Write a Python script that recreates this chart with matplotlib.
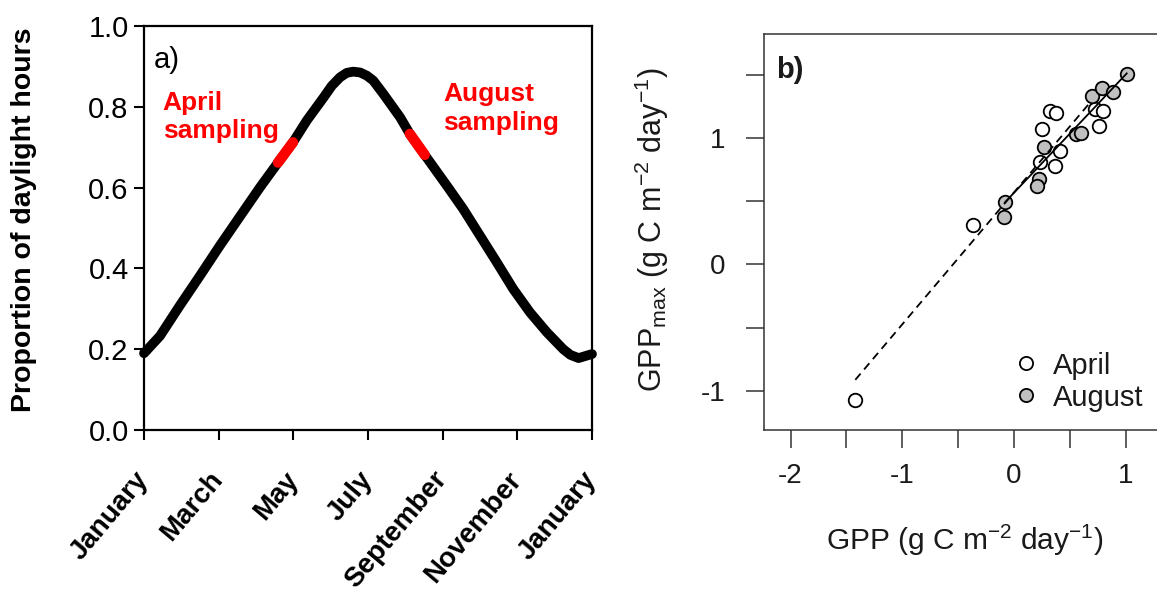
import numpy as np
import matplotlib.pyplot as plt
from matplotlib.lines import Line2D

plt.rcParams['font.family'] = ['Liberation Sans', 'DejaVu Sans']
plt.rcParams['mathtext.fontset'] = 'custom'
plt.rcParams['mathtext.rm'] = 'Liberation Sans'
plt.rcParams['mathtext.it'] = 'Liberation Sans:italic'
plt.rcParams['mathtext.bf'] = 'Liberation Sans:bold'

# panel a: proportion of daylight hours through the year (months since 1 Jan)
months = np.array([0, 0.43, 0.96, 1.50, 2.03, 2.58, 3.11, 3.59, 3.99, 4.36, 4.81, 5.03,
                   5.25, 5.43, 5.60, 5.79, 5.97, 6.14, 6.41, 6.86, 7.12, 7.52, 8.11, 8.55,
                   9.00, 9.45, 9.89, 10.34, 10.79, 11.23, 11.42, 11.64, 12])
daylight = np.array([0.19, 0.233, 0.308, 0.382, 0.456, 0.530, 0.601, 0.662, 0.712, 0.766,
                     0.823, 0.852, 0.873, 0.884, 0.887, 0.885, 0.877, 0.865, 0.832, 0.774,
                     0.733, 0.681, 0.605, 0.547, 0.481, 0.415, 0.349, 0.291, 0.242, 0.200,
                     0.186, 0.178, 0.188])
sampling_windows = [(3.59, 3.99), (7.12, 7.52)]
month_ticks = [0, 2, 4, 6, 8, 10, 12]
month_labels = ['January', 'March', 'May', 'July', 'September', 'November', 'January']

# panel b: GPPmax vs GPP
april_gpp = [-1.420, -0.363, 0.321, 0.381, 0.247, 0.411, 0.232, 0.366, 0.723, 0.797, 0.762]
april_gppmax = [-1.071, 0.307, 1.213, 1.194, 1.069, 0.898, 0.806, 0.780, 1.226, 1.213, 1.094]
august_gpp = [-0.080, -0.089, 0.271, 0.226, 0.203, 0.560, 0.604, 0.699, 0.792, 0.887, 1.012]
august_gppmax = [0.496, 0.372, 0.931, 0.675, 0.622, 1.029, 1.042, 1.331, 1.396, 1.362, 1.502]
# fitted lines: (intercept, slope, x from, x to)
april_fit = (0.568, 1.043, -1.42, 0.68)
august_fit = (0.565, 0.935, -0.08, 1.01)

W, H = 1157, 594
fig = plt.figure(figsize=(W / 100, H / 100), dpi=100)


def px_axes(left, top, right, bottom):
    return fig.add_axes([left / W, 1 - bottom / H, (right - left) / W, (bottom - top) / H])


# ---- panel a
axA = px_axes(144, 26, 592, 430)
axA.plot(months, daylight, color='black', lw=7, solid_capstyle='round',
         solid_joinstyle='round', clip_on=False, zorder=3)
for m0, m1 in sampling_windows:
    sel = (months >= m0) & (months <= m1)
    axA.plot(months[sel], daylight[sel], color='red', lw=7.5,
             solid_capstyle='round', zorder=4)
axA.set_xlim(0, 12)
axA.set_ylim(0, 1)
axA.set_yticks(np.arange(0, 1.01, 0.2))
axA.set_yticklabels([f'{v:.1f}' for v in np.arange(0, 1.01, 0.2)])
axA.set_xticks(month_ticks)
axA.set_xticklabels(month_labels, rotation=50, ha='right', va='center',
                    rotation_mode='anchor', fontweight='bold')
axA.tick_params(direction='out', length=7, width=1.5, labelsize=21)
axA.tick_params(axis='x', pad=25.5, labelsize=20)
axA.tick_params(axis='y', pad=4)
for s in axA.spines.values():
    s.set_linewidth(1.6)
axA.text(0.022, 0.95, 'a)', transform=axA.transAxes, fontsize=21, va='top')
axA.text(0.042, 0.84, 'April\nsampling', transform=axA.transAxes, color='red',
         fontsize=19, fontweight='bold', va='top', linespacing=1.25)
axA.text(0.668, 0.862, 'August\nsampling', transform=axA.transAxes, color='red',
         fontsize=19, fontweight='bold', va='top', linespacing=1.25)
fig.text(24 / W, 1 - 220 / H, 'Proportion of daylight hours', rotation=90,
         ha='center', va='center', fontsize=20.5, fontweight='bold')

# ---- panel b
dark = '#1a1a1a'
axB = px_axes(764.3, 34, 1164.7, 429.5)
axB.scatter(april_gpp, april_gppmax, s=95, facecolor='white', edgecolor='black',
            linewidth=1.3, zorder=2)
axB.scatter(august_gpp, august_gppmax, s=95, facecolor='#c0c0c0', edgecolor='black',
            linewidth=1.3, zorder=2)
for b0, b1, x0, x1, ls in [april_fit + ('--',), august_fit + ('-',)]:
    xs = np.array([x0, x1])
    axB.plot(xs, b0 + b1 * xs, color='black', lw=1.3, ls=ls,
             dashes=(4.5, 3) if ls == '--' else (None, None), zorder=3)
axB.set_xlim(-2.235, 1.35)
axB.set_ylim(-1.306, 1.821)
xt = np.arange(-2, 1.01, 0.5)
axB.set_xticks(xt)
axB.set_xticklabels([f'{v:.0f}' if v == int(v) else '' for v in xt])
yt = np.arange(-1, 1.51, 0.5)
axB.set_yticks(yt)
axB.set_yticklabels([f'{v:.0f}' if v == int(v) else '' for v in yt])
axB.tick_params(direction='out', length=13, width=1.1, color='#333333',
                labelsize=20, labelcolor=dark)
axB.tick_params(axis='x', pad=11)
axB.tick_params(axis='y', pad=15)
for s in axB.spines.values():
    s.set_linewidth(1.1)
    s.set_color('#333333')
axB.text(0.029, 0.945, 'b)', transform=axB.transAxes, fontsize=21,
         fontweight='bold', va='top', color=dark)
handles = [Line2D([], [], ls='none', marker='o', markersize=9.5, markerfacecolor=fc,
                  markeredgecolor='black', markeredgewidth=1.3)
           for fc in ['white', '#c0c0c0']]
axB.legend(handles, ['April', 'August'], loc='upper left', bbox_to_anchor=(-0.02, -0.69),
           bbox_transform=axB.transData, frameon=False, fontsize=21,
           handlelength=1.0, handletextpad=0.41, labelspacing=0.14,
           borderpad=0, borderaxespad=0, labelcolor=dark)
fig.text(965 / W, 1 - 540 / H, r'GPP (g C m$^{-2}$ day$^{-1}$)', ha='center',
         va='center', fontsize=21.5, color=dark)
fig.text(652 / W, 1 - 230 / H, r'GPP$_{\mathrm{max}}$ (g C m$^{-2}$ day$^{-1}$)',
         rotation=90, ha='center', va='center', fontsize=22, color=dark)

fig.savefig('out.png', dpi=100)
